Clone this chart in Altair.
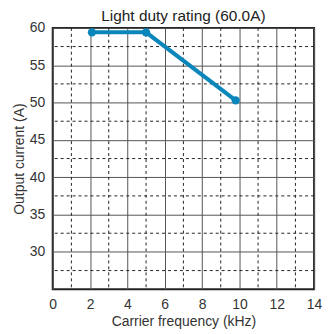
import altair as alt
import pandas as pd

freq_khz = [2.1, 5.0, 9.8]
current_a = [59.4, 59.4, 50.3]
x_ticks = [0, 2, 4, 6, 8, 10, 12, 14]
y_ticks = [30, 35, 40, 45, 50, 55, 60]
x_minor = [1, 3, 5, 7, 9, 11, 13]
y_minor = [27.5, 32.5, 37.5, 42.5, 47.5, 52.5, 57.5]

FONT = "Liberation Sans"
BLUE = "#0a86bb"

df = pd.DataFrame({"f": freq_khz, "i": current_a})
xscale = alt.Scale(domain=[0, 14], nice=False, zero=False)
yscale = alt.Scale(domain=[25, 60], nice=False, zero=False)

xaxis = alt.Axis(values=x_ticks, title="Carrier frequency (kHz)", grid=True,
                 gridColor="#555", gridWidth=1, ticks=False, domain=False,
                 labelOverlap=False, labelFlush=False,
                 labelFont=FONT, labelFontSize=14, labelColor="#333", labelPadding=8,
                 titleFont=FONT, titleFontSize=14, titleFontWeight="normal",
                 titleColor="#333", titlePadding=3)
yaxis = alt.Axis(values=y_ticks, title="Output current (A)", grid=True,
                 gridColor="#555", gridWidth=1, ticks=False, domain=False,
                 labelOverlap=False, labelFlush=False,
                 labelFont=FONT, labelFontSize=14, labelColor="#333", labelPadding=8,
                 titleFont=FONT, titleFontSize=14, titleFontWeight="normal",
                 titleColor="#333", titlePadding=3)

X = lambda f: alt.X(f, scale=xscale, axis=xaxis)
Y = lambda f: alt.Y(f, scale=yscale, axis=yaxis)

vx = alt.Chart(pd.DataFrame({"x": x_minor})).mark_rule(
    color="#222", strokeWidth=1, strokeDash=[3, 3]).encode(x=X("x:Q"))
hy = alt.Chart(pd.DataFrame({"y": y_minor})).mark_rule(
    color="#222", strokeWidth=1, strokeDash=[3, 3]).encode(y=Y("y:Q"))
line = alt.Chart(df).mark_line(color=BLUE, strokeWidth=4).encode(x=X("f:Q"), y=Y("i:Q"))
pts = alt.Chart(df).mark_circle(color=BLUE, size=70, opacity=1).encode(x=X("f:Q"), y=Y("i:Q"))

chart = alt.layer(vx, hy, line, pts).properties(
    width=263, height=263,
    title=alt.TitleParams("Light duty rating (60.0A)", font=FONT, fontSize=15.5,
                          fontWeight="normal", color="#222", offset=-4),
    padding={"left": 4, "top": 0, "right": 5, "bottom": 0},
).configure_view(stroke="#222", strokeWidth=2)

chart.save("out.html", embed_options={"renderer": "svg", "actions": False})
